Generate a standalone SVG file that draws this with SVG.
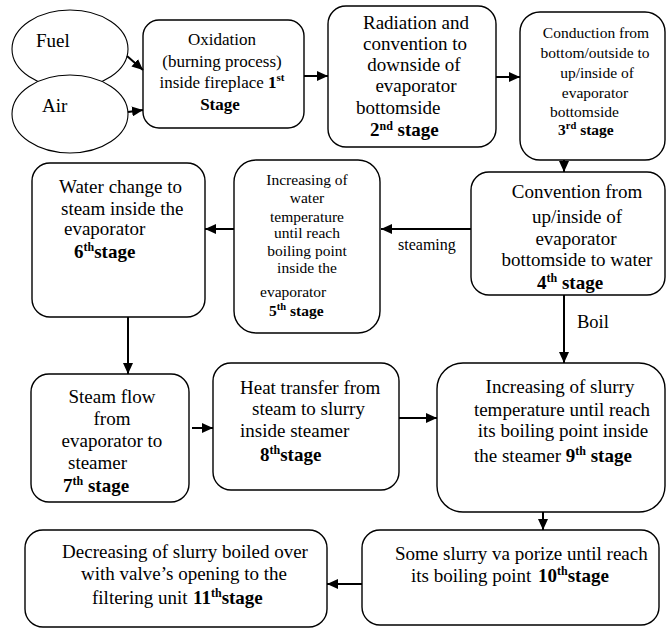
<svg xmlns="http://www.w3.org/2000/svg" width="666" height="628" viewBox="0 0 666 628">
<defs>
<style>
.box{fill:#fff;stroke:#000;stroke-width:1.4}
.ell{fill:#fff;stroke:#000;stroke-width:1.1}
text{font-family:'Liberation Serif','Times New Roman',Times,serif;fill:#000}
.c{text-anchor:middle}
.b{font-weight:bold}
.con{stroke:#000;stroke-width:2;fill:none;marker-end:url(#ah)}
</style>
<marker id="ah" markerUnits="userSpaceOnUse" markerWidth="12" markerHeight="10" refX="11" refY="5" orient="auto">
<path d="M0,0 L11,5 L0,10 z" fill="#000"/>
</marker>
</defs>
<rect width="666" height="628" fill="#fff"/>

<g id="fuel">
<ellipse class="ell" cx="70" cy="49" rx="58" ry="39"/>
<text x="36" y="47" font-size="19">Fuel</text>
</g>
<g id="air">
<ellipse class="ell" cx="70" cy="114" rx="58" ry="39"/>
<text x="42" y="112" font-size="19">Air</text>
</g>

<g id="stage1">
<rect class="box" x="143" y="20" width="161" height="108" rx="16"/>
<text class="c" font-size="17"><tspan x="222" y="45">Oxidation</tspan><tspan x="222" y="67">(burning process)</tspan><tspan x="222" y="88">inside fireplace <tspan class="b">1</tspan><tspan class="b" font-size="11" dy="-7">st</tspan></tspan><tspan class="b" x="220" y="110">Stage</tspan></text>
</g>

<g id="stage2">
<rect class="box" x="328" y="6" width="168" height="141" rx="18"/>
<text class="c" font-size="19"><tspan x="416" y="29">Radiation and</tspan><tspan x="415" y="50">convention to</tspan><tspan x="414" y="71">downside of</tspan><tspan x="416" y="92">evaporator</tspan></text>
<text font-size="19" x="356" y="114">bottomside</text>
<text class="b" font-size="19" x="370" y="136">2<tspan font-size="12" dy="-6">nd</tspan><tspan dy="6"> stage</tspan></text>
</g>

<g id="stage3">
<rect class="box" x="520" y="12" width="145" height="148" rx="20"/>
<text class="c" font-size="15.5"><tspan x="596" y="38">Conduction from</tspan><tspan x="595" y="58">bottom/outside to</tspan><tspan x="597" y="78">up/inside of</tspan><tspan x="595" y="98">evaporator</tspan></text>
<text font-size="15.5" x="550" y="117">bottomside</text>
<text class="b" font-size="15.5" x="558" y="135">3<tspan font-size="10.5" dy="-6">rd</tspan><tspan dy="6"> stage</tspan></text>
</g>

<g id="stage4">
<rect class="box" x="471" y="172" width="194" height="123" rx="18"/>
<text class="c" font-size="19"><tspan x="577" y="198">Convention from</tspan><tspan x="577" y="223">up/inside of</tspan><tspan x="576" y="245">evaporator</tspan><tspan x="577" y="266">bottomside to water</tspan></text>
<text class="b" font-size="19" x="537" y="289">4<tspan font-size="12" dy="-7">th</tspan><tspan dy="7">  stage</tspan></text>
</g>

<g id="stage5">
<rect class="box" x="234" y="160" width="146" height="173" rx="22"/>
<text class="c" font-size="15.5"><tspan x="307" y="185">Increasing of</tspan><tspan x="307" y="203">water</tspan><tspan x="307" y="222">temperature</tspan><tspan x="307" y="238">until reach</tspan><tspan x="307" y="256">boiling point</tspan><tspan x="307" y="273">inside the</tspan></text>
<text font-size="15.5" x="260" y="297">evaporator</text>
<text class="b" font-size="15.5" x="269" y="316">5<tspan font-size="10.5" dy="-6">th</tspan><tspan dy="6"> stage</tspan></text>
</g>

<g id="stage6">
<rect class="box" x="32" y="163" width="173" height="154" rx="18"/>
<text font-size="19"><tspan x="59" y="193">Water change to</tspan><tspan x="61" y="215">steam inside the</tspan><tspan x="64" y="235">evaporator</tspan></text>
<text class="b" font-size="19" x="74" y="258">6<tspan font-size="12" dy="-7">th</tspan><tspan dy="7">stage</tspan></text>
</g>

<g id="stage7">
<rect class="box" x="31" y="374" width="158" height="128" rx="18"/>
<text class="c" font-size="19"><tspan x="112" y="403">Steam flow</tspan><tspan x="112" y="425">from</tspan><tspan x="112" y="447">evaporator to</tspan></text>
<text font-size="19" x="68" y="469">steamer</text>
<text class="b" font-size="19" x="63" y="492">7<tspan font-size="12" dy="-7">th</tspan><tspan dy="7"> stage</tspan></text>
</g>

<g id="stage8">
<rect class="box" x="213" y="363" width="186" height="127" rx="18"/>
<text font-size="19"><tspan x="240" y="394">Heat transfer from</tspan><tspan x="252" y="415">steam to slurry</tspan><tspan x="240" y="437">inside steamer</tspan></text>
<text class="b" font-size="19" x="260" y="461">8<tspan font-size="12" dy="-7">th</tspan><tspan dy="7">stage</tspan></text>
</g>

<g id="stage9">
<rect class="box" x="437" y="363" width="228" height="149" rx="26"/>
<text class="c" font-size="19"><tspan x="560" y="393">Increasing of slurry</tspan><tspan x="562" y="416">temperature until reach</tspan><tspan x="563" y="437">its boiling point inside</tspan></text>
<text font-size="19" x="474" y="462">the steamer <tspan class="b">9</tspan><tspan class="b" font-size="12" dy="-7">th</tspan><tspan class="b" dy="7"> stage</tspan></text>
</g>

<g id="stage10">
<rect class="box" x="362" y="530" width="297" height="95" rx="18"/>
<text font-size="19" x="395" y="560">Some slurry va porize until reach</text>
<text font-size="19" x="411" y="582">its boiling point <tspan class="b" x="538">10</tspan><tspan class="b" font-size="12" dy="-7">th</tspan><tspan class="b" dy="7">stage</tspan></text>
</g>

<g id="stage11">
<rect class="box" x="25" y="530" width="302" height="97" rx="18"/>
<text class="c" font-size="19"><tspan x="185" y="558">Decreasing of slurry boiled over</tspan><tspan x="184" y="580">with valve’s opening to the</tspan></text>
<text font-size="19" x="92" y="604">filtering unit <tspan class="b" x="193">11</tspan><tspan class="b" font-size="12" dy="-7">th</tspan><tspan class="b" dy="7">stage</tspan></text>
</g>

<g id="connectors">
<line class="con" x1="127" y1="56" x2="143" y2="70"/>
<line class="con" x1="128" y1="112" x2="143" y2="110"/>
<line class="con" x1="304" y1="76" x2="328" y2="76"/>
<line class="con" x1="496" y1="77" x2="520" y2="77"/>
<line class="con" x1="564" y1="160" x2="564" y2="172"/>
<line class="con" x1="471" y1="229" x2="381" y2="229"/>
<line class="con" x1="234" y1="229" x2="205" y2="229"/>
<line class="con" x1="128" y1="317" x2="128" y2="374"/>
<line class="con" x1="192" y1="428" x2="213" y2="428"/>
<line class="con" x1="399" y1="418" x2="437" y2="418"/>
<line class="con" x1="564" y1="295" x2="564" y2="363"/>
<line class="con" x1="543" y1="512" x2="543" y2="530"/>
<line class="con" x1="362" y1="584" x2="327" y2="584"/>
<text font-size="16" x="398" y="250">steaming</text>
<text font-size="18.5" x="577" y="328">Boil</text>
</g>
</svg>
